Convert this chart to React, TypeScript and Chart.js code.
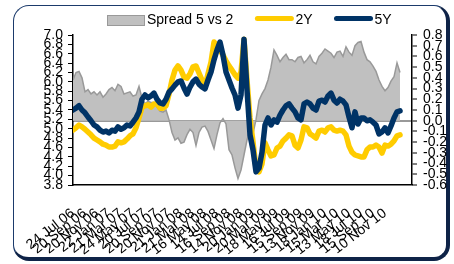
import React, { useEffect, useRef } from "react";
import { Chart, registerables } from "chart.js";

Chart.register(...registerables);

// x-axis tick labels (every two months)
const tickLabels = [
  "24 Jul 06", "20 Sep 06", "20 Nov 06", "22 Jan 07", "21 Mar 07", "24 May 07",
  "20 Jul 07", "20 Sep 07", "20 Nov 07", "21 Jan 08", "21 Mar 08", "16 May 08",
  "14 Jul 08", "16 Sep 08", "14 Nov 08", "20 Jan 09", "20 Mar 09", "18 May 09",
  "16 Jul 09", "15 Sep 09", "13 Nov 09", "18 Jan 10", "15 Mar 10", "13 May 10",
  "18 Jul 10", "15 Sep 10", "10 Nov 10",
];
const MONTHS_PER_TICK = 2;
const MONTHS_PER_POINT = 0.5;

// Spread 5 vs 2 (right axis)
const spread5v2 = [
  0.38, 0.45, 0.46, 0.40, 0.27, 0.29, 0.25, 0.27, 0.24, 0.27,
  0.22, 0.25, 0.29, 0.31, 0.28, 0.34, 0.32, 0.25, 0.26, 0.27,
  0.23, 0.24, 0.32, 0.21, 0.16, 0.18, 0.17, 0.17, 0.13, 0.09,
  0.08, 0.10, 0.01, -0.11, -0.18, -0.16, -0.21, -0.20, -0.13, -0.08,
  -0.11, -0.23, -0.11, -0.06, -0.05, -0.10, -0.18, -0.26, -0.13, -0.02,
  0.02, -0.03, -0.27, -0.32, -0.44, -0.54, -0.46, -0.32, -0.18, -0.08,
  -0.12, 0.01, 0.19, 0.25, 0.30, 0.38, 0.50, 0.66, 0.61, 0.55,
  0.59, 0.62, 0.57, 0.57, 0.55, 0.59, 0.60, 0.54, 0.57, 0.61,
  0.55, 0.53, 0.60, 0.63, 0.67, 0.65, 0.63, 0.59, 0.64, 0.65,
  0.60, 0.69, 0.64, 0.61, 0.70, 0.73, 0.74, 0.64, 0.57, 0.55,
  0.51, 0.46, 0.38, 0.32, 0.28, 0.31, 0.37, 0.41, 0.54, 0.45,
];

// 2Y yield (left axis)
const yield2Y = [
  4.97, 5.02, 5.08, 5.04, 4.99, 4.93, 4.87, 4.80, 4.76, 4.72,
  4.67, 4.65, 4.61, 4.61, 4.63, 4.72, 4.70, 4.72, 4.78, 4.85,
  4.89, 5.02, 5.23, 5.46, 5.49, 5.51, 5.46, 5.53, 5.53, 5.44,
  5.44, 5.49, 5.74, 6.04, 6.25, 6.34, 6.25, 6.10, 6.08, 6.17,
  6.32, 6.34, 6.19, 6.04, 5.91, 6.17, 6.42, 6.85, 6.77, 6.68,
  6.57, 6.45, 6.34, 6.25, 6.15, 6.08, 6.21, 6.91, 6.04, 5.23,
  4.72, 4.16, 4.08, 4.25, 4.70, 4.55, 4.42, 4.44, 4.59, 4.63,
  4.74, 4.80, 4.87, 4.85, 4.65, 4.59, 4.76, 5.04, 5.02, 4.89,
  4.85, 4.80, 4.95, 4.97, 4.93, 5.02, 5.04, 4.97, 4.95, 4.97,
  4.95, 4.87, 4.63, 4.50, 4.44, 4.42, 4.40, 4.40, 4.55, 4.61,
  4.61, 4.65, 4.61, 4.48, 4.65, 4.63, 4.67, 4.74, 4.85, 4.87,
];

// 5Y yield (left axis)
const yield5Y = [
  5.40, 5.44, 5.49, 5.40, 5.34, 5.25, 5.17, 5.08, 5.04, 4.97,
  4.93, 4.95, 4.91, 4.97, 4.95, 5.04, 4.99, 5.02, 5.08, 5.06,
  5.14, 5.23, 5.36, 5.63, 5.72, 5.66, 5.70, 5.76, 5.63, 5.55,
  5.53, 5.63, 5.78, 5.85, 5.93, 6.00, 6.02, 5.87, 5.74, 5.89,
  6.00, 6.06, 5.95, 5.89, 5.85, 6.04, 6.21, 6.47, 6.68, 6.85,
  6.57, 6.21, 6.04, 5.87, 5.72, 5.44, 5.72, 6.91, 5.83, 4.87,
  4.55, 4.08, 4.16, 4.50, 5.08, 5.23, 5.08, 5.19, 5.14, 5.29,
  5.40, 5.49, 5.53, 5.44, 5.36, 5.23, 5.19, 5.53, 5.57, 5.53,
  5.44, 5.40, 5.59, 5.61, 5.57, 5.70, 5.76, 5.61, 5.55, 5.63,
  5.59, 5.51, 5.25, 5.02, 5.36, 5.10, 5.23, 5.23, 5.17, 5.19,
  5.14, 5.08, 4.89, 4.93, 5.02, 4.91, 5.06, 5.23, 5.36, 5.38,
];

const FONT = '"Liberation Sans", Arial, sans-serif';

const toPoints = (arr: number[]) => arr.map((v, i) => ({ x: i * MONTHS_PER_POINT, y: v }));
const fmt = (v: number | string) => {
  const n = Number(v);
  return (Math.abs(n) < 1e-9 ? 0 : n).toFixed(1);
};

const legendPlugin = {
  id: "boxLegend",
  afterDraw(chart: any) {
    const ctx = chart.ctx as CanvasRenderingContext2D;
    ctx.save();
    ctx.font = `14px ${FONT}`;
    ctx.textBaseline = "middle";
    let x = 107;
    const cy = 20.5;
    chart.data.datasets.forEach((ds: any) => {
      if (ds.fill) {
        ctx.fillStyle = ds.backgroundColor;
        ctx.fillRect(x, cy - 5.5, 38, 11);
        ctx.strokeStyle = ds.borderColor;
        ctx.lineWidth = 1;
        ctx.strokeRect(x + 0.5, cy - 5, 37, 10);
      } else {
        ctx.strokeStyle = ds.borderColor;
        ctx.lineWidth = 5;
        ctx.lineCap = "round";
        ctx.beginPath();
        ctx.moveTo(x + 2, cy - 2);
        ctx.lineTo(x + 36, cy - 2);
        ctx.stroke();
      }
      ctx.fillStyle = "#000";
      ctx.fillText(ds.label, x + 40, cy);
      x += 40 + ctx.measureText(ds.label).width + 22;
    });
    ctx.restore();
  },
};

export default function App() {
  const ref = useRef<HTMLCanvasElement>(null);

  useEffect(() => {
    const tickFont = { family: FONT, size: 14 };
    const chart = new Chart(ref.current!, {
      type: "line",
      data: {
        datasets: [
          {
            label: "Spread 5 vs 2",
            data: toPoints(spread5v2),
            yAxisID: "y2",
            borderColor: "#999999",
            backgroundColor: "#C0C0C0",
            borderWidth: 1.5,
            fill: "origin",
            pointRadius: 0,
            tension: 0,
            order: 3,
          },
          {
            label: "2Y",
            data: toPoints(yield2Y),
            yAxisID: "y",
            borderColor: "#FFCC00",
            backgroundColor: "#FFCC00",
            borderWidth: 5.5,
            borderJoinStyle: "round",
            borderCapStyle: "round",
            fill: false,
            pointRadius: 0,
            tension: 0,
            order: 2,
          },
          {
            label: "5Y",
            data: toPoints(yield5Y),
            yAxisID: "y",
            borderColor: "#003366",
            backgroundColor: "#003366",
            borderWidth: 5.5,
            borderJoinStyle: "round",
            borderCapStyle: "round",
            fill: false,
            pointRadius: 0,
            tension: 0,
            order: 1,
          },
        ],
      },
      options: {
        responsive: false,
        animation: false,
        devicePixelRatio: 1,
        layout: { padding: { top: 35, left: 0, right: 0, bottom: 0 } },
        plugins: {
          legend: { display: false },
          tooltip: { enabled: false },
        },
        scales: {
          x: {
            type: "linear",
            min: 0,
            max: 56.5,
            afterBuildTicks: (s: any) => {
              s.ticks = tickLabels.map((_, k) => ({ value: k * MONTHS_PER_TICK }));
            },
            afterFit: (s: any) => {
              s.height = 79;
            },
            grid: { display: false, drawTicks: false },
            border: { display: true, color: "#000", width: 1.5 },
            ticks: {
              autoSkip: false,
              minRotation: 38,
              maxRotation: 38,
              padding: 20,
              color: "#000",
              font: tickFont,
              callback: (_v: any, i: number) => tickLabels[i] ?? "",
            },
          },
          y: {
            position: "left",
            min: 3.8,
            max: 7.0,
            afterFit: (s: any) => {
              s.width = 73;
            },
            grid: { drawOnChartArea: false, drawTicks: true, tickLength: 5, tickColor: "#000", tickWidth: 1 },
            border: { display: true, color: "#000", width: 1.5 },
            ticks: { stepSize: 0.2, autoSkip: false, padding: 5, color: "#000", font: tickFont, callback: (v: any) => fmt(v) },
          },
          y2: {
            position: "right",
            min: -0.6,
            max: 0.8,
            afterFit: (s: any) => {
              s.width = 42;
            },
            grid: {
              drawOnChartArea: true,
              drawTicks: true,
              tickLength: 5,
              tickColor: "#000",
              tickWidth: 1,
              color: (c: any) => (c.tick && Math.abs(c.tick.value) < 1e-9 ? "#999999" : "rgba(0,0,0,0)"),
              lineWidth: (c: any) => (c.tick && Math.abs(c.tick.value) < 1e-9 ? 2 : 0),
            },
            border: { display: true, color: "#000", width: 1.5 },
            ticks: { stepSize: 0.1, autoSkip: false, padding: 6, color: "#000", font: tickFont, callback: (v: any) => fmt(v) },
          },
        },
      },
      plugins: [legendPlugin],
    } as any);
    return () => chart.destroy();
  }, []);

  return (
    <div style={{ position: "fixed", left: 0, top: 0, width: 454, height: 264, overflow: "hidden", background: "#fff" }}>
      <div
        style={{
          position: "absolute",
          left: 13,
          top: 5,
          width: 437,
          height: 256,
          boxSizing: "border-box",
          border: "1.5px solid #1B3A6B",
          borderRightWidth: 4,
          borderBottomWidth: 4,
          borderRightColor: "#0E2347",
          borderBottomColor: "#0E2347",
          borderRadius: 16,
        }}
      />
      <canvas ref={ref} width={454} height={264} style={{ position: "absolute", left: 0, top: 0 }} />
    </div>
  );
}
